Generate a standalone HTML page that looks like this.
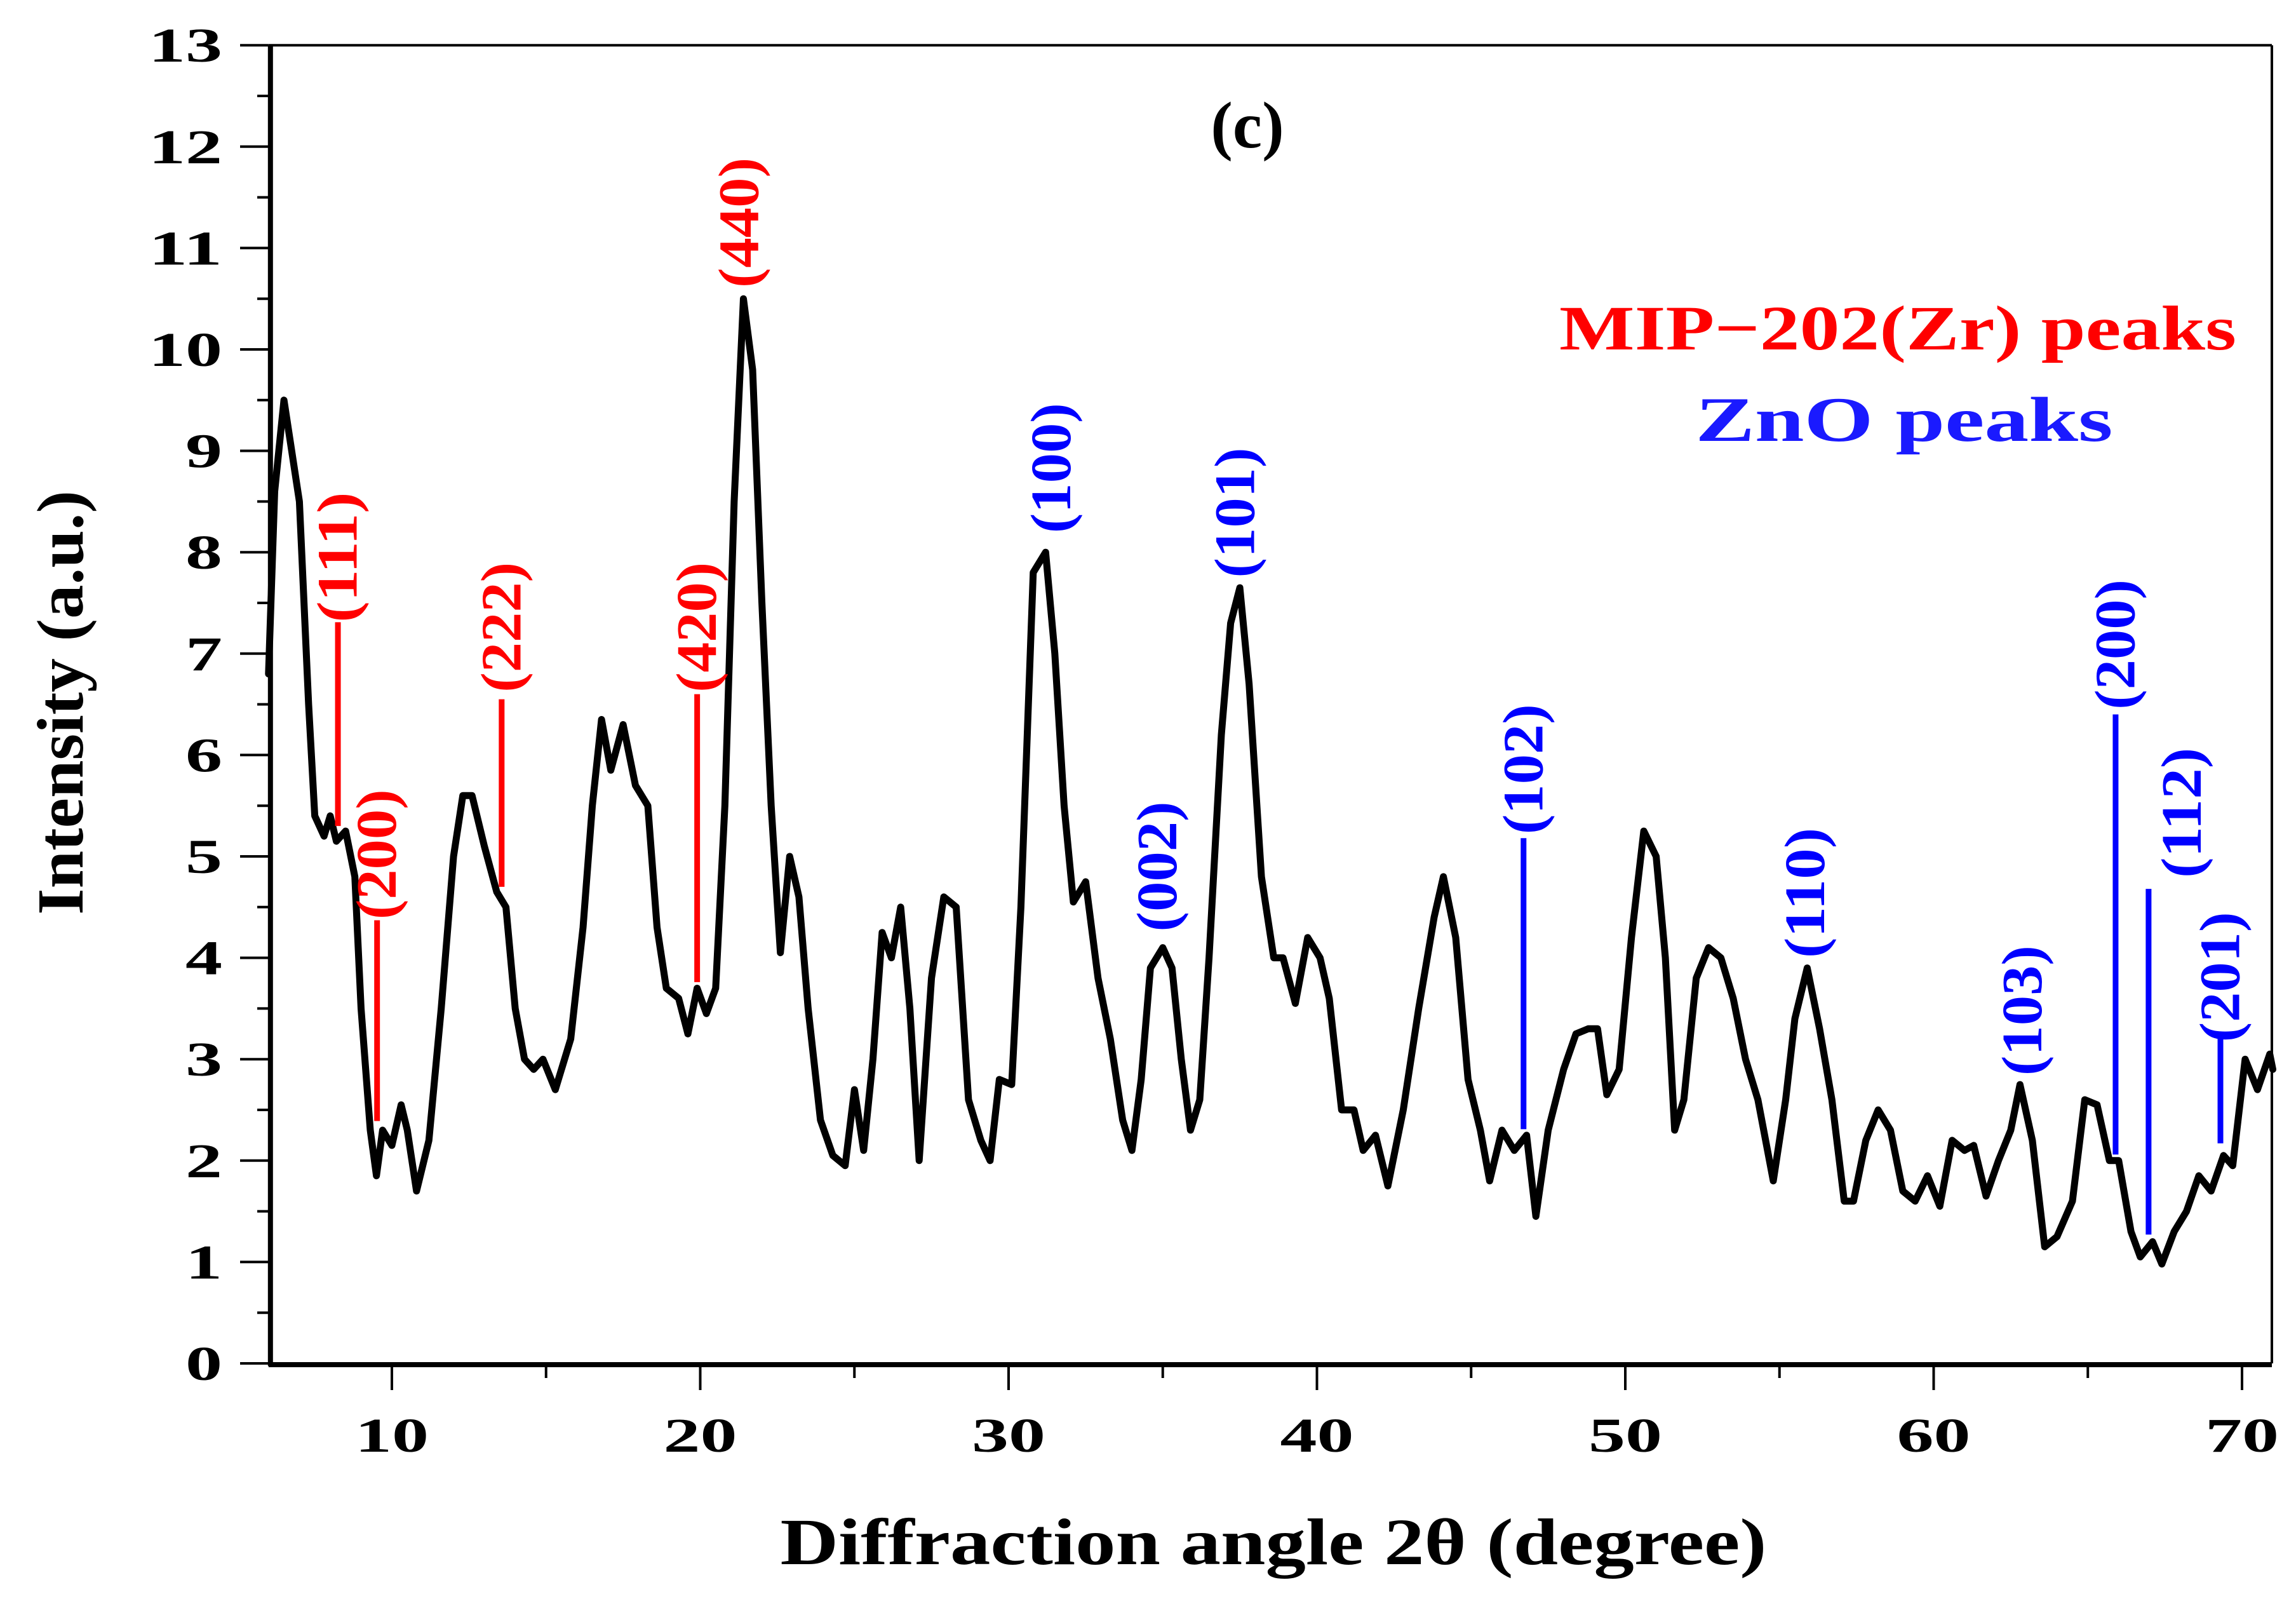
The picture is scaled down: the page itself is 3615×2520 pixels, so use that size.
<!DOCTYPE html>
<html><head><meta charset="utf-8"><style>
html,body{margin:0;padding:0;background:#fff}
svg{display:block}
text{font-family:"Liberation Serif",serif;font-weight:bold}
</style></head><body>
<svg id="chart" width="3615" height="2520" viewBox="0 0 3615 2520" xmlns="http://www.w3.org/2000/svg">
<rect width="3615" height="2520" fill="#fff"/>
<g id="plot"></g>
</svg>
<script>
const xTicks=[10,20,30,40,50,60,70];
const yTicks=[0,1,2,3,4,5,6,7,8,9,10,11,12,13];
const angles=[6,6.2,6.5,7.0,7.3,7.5,7.8,8.0,8.2,8.5,8.8,9.0,9.3,9.5,9.7,10.0,10.3,10.5,10.8,11.2,11.6,12.0,12.3,12.6,13.0,13.4,13.7,14.0,14.3,14.6,14.9,15.3,15.8,16.2,16.5,16.8,17.1,17.5,17.9,18.3,18.6,18.9,19.3,19.6,19.9,20.2,20.5,20.8,21.1,21.4,21.7,22.0,22.3,22.6,22.9,23.2,23.5,23.9,24.3,24.7,25.0,25.3,25.6,25.9,26.2,26.5,26.8,27.1,27.5,27.9,28.3,28.7,29.1,29.4,29.7,30.1,30.4,30.8,31.2,31.5,31.8,32.1,32.5,32.9,33.3,33.7,34.0,34.3,34.6,35.0,35.3,35.6,35.9,36.2,36.5,36.9,37.2,37.5,37.8,38.2,38.6,38.9,39.3,39.7,40.1,40.4,40.8,41.2,41.5,41.9,42.3,42.8,43.3,43.8,44.1,44.5,44.9,45.3,45.6,46.0,46.4,46.8,47.1,47.5,48.0,48.4,48.8,49.1,49.4,49.8,50.2,50.6,51.0,51.3,51.6,51.9,52.3,52.7,53.1,53.5,53.9,54.3,54.8,55.2,55.5,55.9,56.3,56.7,57.1,57.4,57.8,58.2,58.6,59.0,59.4,59.8,60.2,60.6,61.0,61.3,61.7,62.1,62.5,62.8,63.2,63.6,64.0,64.5,64.9,65.3,65.7,66.0,66.4,66.7,67.1,67.4,67.8,68.2,68.6,69.0,69.4,69.7,70.1,70.5,70.9,71];
const intensity=[6.8,8.6,9.5,8.5,6.5,5.4,5.2,5.4,5.15,5.25,4.8,3.5,2.3,1.85,2.3,2.15,2.55,2.3,1.7,2.2,3.5,5.0,5.6,5.6,5.1,4.65,4.5,3.5,3.0,2.9,3.0,2.7,3.2,4.3,5.5,6.35,5.85,6.3,5.7,5.5,4.3,3.7,3.6,3.25,3.7,3.45,3.7,5.5,8.5,10.5,9.8,7.5,5.5,4.05,5.0,4.6,3.5,2.4,2.05,1.95,2.7,2.1,3.0,4.25,4.0,4.5,3.5,2.0,3.8,4.6,4.5,2.6,2.2,2.0,2.8,2.75,4.5,7.8,8.0,7.0,5.5,4.55,4.75,3.8,3.2,2.4,2.1,2.8,3.9,4.1,3.9,3.0,2.3,2.6,4.0,6.2,7.3,7.65,6.7,4.8,4.0,4.0,3.55,4.2,4.0,3.6,2.5,2.5,2.1,2.25,1.75,2.5,3.5,4.4,4.8,4.2,2.8,2.3,1.8,2.3,2.1,2.25,1.45,2.3,2.9,3.25,3.3,3.3,2.65,2.9,4.2,5.25,5.0,4.0,2.3,2.6,3.8,4.1,4.0,3.6,3.0,2.6,1.8,2.6,3.4,3.9,3.3,2.6,1.6,1.6,2.2,2.5,2.3,1.7,1.6,1.85,1.55,2.2,2.1,2.15,1.65,2.0,2.3,2.75,2.2,1.15,1.25,1.6,2.6,2.55,2.0,2.0,1.3,1.05,1.2,0.98,1.3,1.5,1.85,1.7,2.05,1.95,3.0,2.7,3.05,2.9];
const peakLabels=["(111)","(200)","(222)","(420)","(440)","(100)","(002)","(101)","(102)","(110)","(103)","(200)","(112)","(201)"];
const peakPhase=["mip","mip","mip","mip","mip","zno","zno","zno","zno","zno","zno","zno","zno","zno"];
const peakLineX=[8.25,9.52,13.56,19.9,null,null,null,null,46.7,null,null,65.9,66.97,69.3];
const peakLineTop=[7.31,4.37,6.55,6.6,null,null,null,null,5.18,null,null,6.4,4.68,3.25];
const peakLineBottom=[5.3,2.39,4.7,3.76,null,null,null,null,2.31,null,null,2.06,1.27,2.17];
const peakLabelX=[8.25,9.52,13.56,19.9,21.27,31.39,34.83,37.35,46.7,55.84,62.88,65.9,68.05,69.3];
const peakLabelY=[7.95,5.02,7.26,7.26,11.25,8.83,4.90,8.39,5.86,4.64,3.48,7.09,5.43,3.81];

const NS="http://www.w3.org/2000/svg";
const X=v=>617+(v-10)*48.55;
const Y=v=>2146-v*159.6;
const g=document.getElementById('plot');
function mk(tag,attrs,txt){const e=document.createElementNS(NS,tag);for(const k in attrs)e.setAttribute(k,attrs[k]);if(txt!==undefined)e.textContent=txt;g.appendChild(e);return e;}

let e;
e=mk('line',{x1:X(6),y1:Y(13),x2:3577,y2:Y(13),stroke:'#000','stroke-width':4});


e=mk('line',{x1:3577,y1:Y(13),x2:3577,y2:Y(0),stroke:'#000','stroke-width':4});


e=mk('line',{x1:X(6)+3,y1:Y(13),x2:X(6)+3,y2:Y(0)+4,stroke:'#000','stroke-width':8});


e=mk('line',{x1:X(6),y1:Y(0)+2,x2:3577,y2:Y(0)+2,stroke:'#000','stroke-width':8});



yTicks.forEach((v,i)=>{
  const t=mk('line',{x1:378,y1:Y(v),x2:X(6),y2:Y(v),stroke:'#000','stroke-width':4});
  
  
  if(i<yTicks.length-1){const m=mk('line',{x1:405,y1:Y(v+0.5),x2:X(6),y2:Y(v+0.5),stroke:'#000','stroke-width':4});
  
  }
  const lab=mk('text',{x:350,y:Y(v)+26,'text-anchor':'end','font-size':76,textLength:String(v).length*58,lengthAdjust:'spacingAndGlyphs'},String(v));
  
  
});
for(let v=10;v<=70;v+=5){
  const major=v%10===0;
  const t=mk('line',{x1:X(v),y1:Y(0),x2:X(v),y2:major?2188:2169,stroke:'#000','stroke-width':4});
  
  
}
xTicks.forEach(v=>{
  const lab=mk('text',{x:X(v),y:2285,'text-anchor':'middle','font-size':76,textLength:116,lengthAdjust:'spacingAndGlyphs'},String(v));
  
  
});
e=mk('text',{x:2005,y:2462,'text-anchor':'middle','font-size':104,textLength:1553,lengthAdjust:'spacingAndGlyphs'},'Diffraction angle 2θ (degree)');


e=mk('text',{x:0,y:0,'text-anchor':'middle','font-size':104,textLength:668,lengthAdjust:'spacingAndGlyphs',transform:'translate(130,1106) rotate(-90)'},'Intensity (a.u.)');


e=mk('text',{x:1964,y:232,'text-anchor':'middle','font-size':104},'(c)');


e=mk('text',{x:2988,y:550,'text-anchor':'middle','font-size':100,fill:'#ff0000',textLength:1066,lengthAdjust:'spacingAndGlyphs'},'MIP−202(Zr) peaks');


e=mk('text',{x:2998,y:694,'text-anchor':'middle','font-size':100,fill:'#1a1aff',textLength:657,lengthAdjust:'spacingAndGlyphs'},'ZnO peaks');



let d=angles.map((a,i)=>(i?'L':'M')+X(a).toFixed(1)+' '+Y(intensity[i]).toFixed(1)).join(' ');
e=mk('path',{d:d,fill:'none',stroke:'#000','stroke-width':11,'stroke-linejoin':'round','stroke-linecap':'round'});



peakLabels.forEach((lbl,i)=>{
  const col=peakPhase[i]==='mip'?'#ff0000':'#0000ff';
  if(peakLineX[i]!==null){
    const l=mk('line',{x1:X(peakLineX[i]),y1:Y(peakLineTop[i]),x2:X(peakLineX[i]),y2:Y(peakLineBottom[i]),stroke:col,'stroke-width':9});
    
    
  }
  const t=mk('text',{x:0,y:0,'text-anchor':'middle','dominant-baseline':'central','font-size':90,fill:col,textLength:205,lengthAdjust:'spacingAndGlyphs',transform:`translate(${X(peakLabelX[i])},${Y(peakLabelY[i])}) rotate(-90)`},lbl);
  
  
});
</script>
</body></html>
